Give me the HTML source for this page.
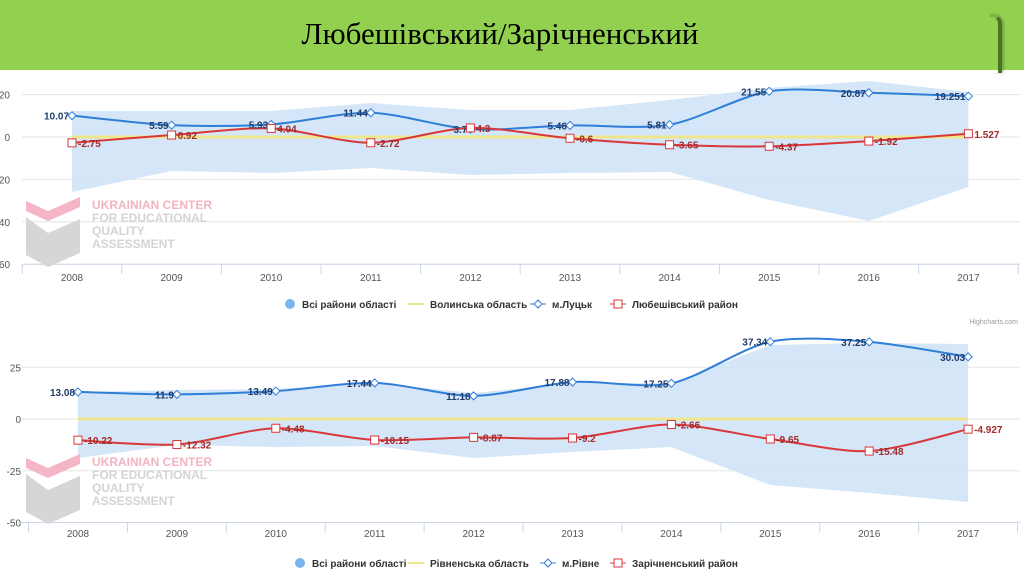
<!DOCTYPE html>
<html><head><meta charset="utf-8"><style>
html,body{margin:0;padding:0;background:#fff;width:1024px;height:574px;overflow:hidden;font-family:"Liberation Sans",sans-serif}
#hdr{position:absolute;left:0;top:0;width:1024px;height:70px;background:#92d050}
#hdr .t{position:absolute;left:0;width:1000px;top:16px;text-align:center;font-family:"Liberation Serif",serif;font-size:31px;color:#000}
#hdr .c{position:absolute;left:990px;top:14px;width:8px;height:56px;border-right:4px solid #4a7322;border-top:3px solid #7fb046;border-top-right-radius:10px;box-shadow:2px 0 2px rgba(0,0,0,.2)}
svg{position:absolute;left:0;top:0}
</style></head><body>
<div id="hdr"><div class="t">Любешівський/Зарічненський</div><div class="c"></div></div>
<svg id="s" width="1024" height="574" font-family="Liberation Sans, sans-serif"></svg>
<script>
const S=document.getElementById('s');let h='';
function cr(p){let d='M'+p[0][0]+','+p[0][1];for(let i=0;i<p.length-1;i++){const p0=p[i-1]||p[i],p1=p[i],p2=p[i+1],p3=p[i+2]||p2;const c1=[p1[0]+(p2[0]-p0[0])/7,p1[1]+(p2[1]-p0[1])/7],c2=[p2[0]-(p3[0]-p1[0])/7,p2[1]-(p3[1]-p1[1])/7];d+=` C${c1[0]},${c1[1]} ${c2[0]},${c2[1]} ${p2[0]},${p2[1]}`;}return d;}
function chart(o){
 const X=i=>o.x0+i*o.dx, Y=v=>o.z-o.k*v;
 o.ticks.forEach(t=>{h+=`<line x1="${o.L}" x2="1020" y1="${Y(t)}" y2="${Y(t)}" stroke="#e6e6e6"/>`;h+=`<text x="${o.tx}" y="${Y(t)+4}" font-size="10" fill="#555" text-anchor="end">${t}</text>`;});
 const yb=Y(o.ticks[o.ticks.length-1]);
 h+=`<line x1="${o.L}" x2="1020" y1="${yb}" y2="${yb}" stroke="#ccd6eb"/>`;
 for(let i=0;i<=10;i++){const x=X(i)-o.dx/2;h+=`<line x1="${x}" x2="${x}" y1="${yb}" y2="${yb+10}" stroke="#ccd6eb"/>`;}
 for(let i=0;i<10;i++)h+=`<text x="${X(i)}" y="${o.ly}" font-size="10" fill="#555" text-anchor="middle">${2008+i}</text>`;
 let pts=o.top.map((y,i)=>X(i)+','+y).join(' ')+' '+o.bot.map((y,i)=>X(i)+','+y).reverse().join(' ');
 h+=`<polygon points="${pts}" fill="#cfe3f6" opacity=".9"/>`;
 const wy=o.wy;
 h+=`<path d="M26 ${wy} l0 10 l22 10 l32 -14 l0 -10 l-32 14z" fill="#f4b6c4"/><path d="M26 ${wy+16} l0 38 l22 12 l32 -14 l0 -34 l-32 14z" fill="#d6d6d6"/>`;
 ['UKRAINIAN CENTER','FOR EDUCATIONAL','QUALITY','ASSESSMENT'].forEach((t,i)=>h+=`<text x="92" y="${wy+8+i*13}" font-size="12" font-weight="bold" fill="${i?'#d4d4d4':'#f3b3c2'}">${t}</text>`);
 h+=`<line x1="${X(0)}" x2="${X(9)}" y1="${o.z}" y2="${o.z}" stroke="#f0e68c" stroke-width="3"/>`;
 const bp=o.b.map((v,i)=>[X(i),Y(v)]), rp=o.r.map((v,i)=>[X(i),Y(v)]);
 h+=`<path d="${cr(bp)}" fill="none" stroke="#2f7ed8" stroke-width="2"/>`;
 h+=`<path d="${cr(rp)}" fill="none" stroke="#d9383a" stroke-width="2"/>`;
 bp.forEach((p,i)=>{h+=`<path d="M${p[0]-4},${p[1]} L${p[0]},${p[1]-4} L${p[0]+4},${p[1]} L${p[0]},${p[1]+4}Z" fill="#fff" stroke="#2f7ed8"/>`;h+=`<text x="${p[0]-3}" y="${p[1]+4}" font-size="10" font-weight="bold" fill="#223c6a" text-anchor="end">${o.bl[i]}</text>`;});
 rp.forEach((p,i)=>{h+=`<rect x="${p[0]-4}" y="${p[1]-4}" width="8" height="8" fill="#fff" stroke="#d9383a"/>`;h+=`<text x="${p[0]+6}" y="${p[1]+4}" font-size="10" font-weight="bold" fill="#a32a2a">${o.rl[i]}</text>`;});
 const lg=o.lg, y=o.gy;
 h+=`<circle cx="${lg[0]}" cy="${y-4}" r="5" fill="#7cb5ec"/><text x="${lg[0]+12}" y="${y}" font-size="10" font-weight="bold" fill="#333">Всі райони області</text>`;
 h+=`<line x1="${lg[1]}" x2="${lg[1]+16}" y1="${y-4}" y2="${y-4}" stroke="#f0e68c" stroke-width="2"/><text x="${lg[1]+22}" y="${y}" font-size="10" font-weight="bold" fill="#333">${o.n1}</text>`;
 h+=`<line x1="${lg[2]}" x2="${lg[2]+16}" y1="${y-4}" y2="${y-4}" stroke="#2f7ed8"/><path d="M${lg[2]+4},${y-4} l4,-4 l4,4 l-4,4z" fill="#fff" stroke="#2f7ed8"/><text x="${lg[2]+22}" y="${y}" font-size="10" font-weight="bold" fill="#333">${o.n2}</text>`;
 h+=`<line x1="${lg[3]}" x2="${lg[3]+16}" y1="${y-4}" y2="${y-4}" stroke="#d9383a"/><rect x="${lg[3]+4}" y="${y-8}" width="8" height="8" fill="#fff" stroke="#d9383a"/><text x="${lg[3]+22}" y="${y}" font-size="10" font-weight="bold" fill="#333">${o.n3}</text>`;
}
chart({x0:72,dx:99.6,z:137,k:2.12,L:22,tx:10,ticks:[20,0,-20,-40,-60],ly:281,gy:308,wy:201,
 top:[111,111,111,103,110,110,100,88,81,92],bot:[192,171,173,168,175,173,172,200,221,187],
 b:[10.07,5.59,5.93,11.44,3.7,5.46,5.81,21.55,20.87,19.251],bl:['10.07','5.59','5.93','11.44','3.7','5.46','5.81','21.55','20.87','19.251'],
 r:[-2.75,0.92,4.04,-2.72,4.3,-0.6,-3.65,-4.37,-1.92,1.527],rl:['-2.75','0.92','4.04','-2.72','4.3','-0.6','-3.65','-4.37','-1.92','1.527'],
 lg:[290,408,530,610],n1:'Волинська область',n2:'м.Луцьк',n3:'Любешівський район'});
chart({x0:78,dx:98.9,z:419,k:2.07,L:18,tx:21,ticks:[25,0,-25,-50],ly:537,gy:567,wy:458,
 top:[392,390,389,383,393,383,383,345,343,344],bot:[458,445,447,446,458,452,447,485,493,502],
 b:[13.08,11.9,13.49,17.44,11.18,17.88,17.25,37.34,37.25,30.03],bl:['13.08','11.9','13.49','17.44','11.18','17.88','17.25','37.34','37.25','30.03'],
 r:[-10.22,-12.32,-4.48,-10.15,-8.87,-9.2,-2.66,-9.65,-15.48,-4.927],rl:['-10.22','-12.32','-4.48','-10.15','-8.87','-9.2','-2.66','-9.65','-15.48','-4.927'],
 lg:[300,408,540,610],n1:'Рівненська область',n2:'м.Рівне',n3:'Зарічненський район'});
h+=`<text x="1018" y="324" font-size="7" fill="#999" text-anchor="end">Highcharts.com</text>`;
S.innerHTML=h;
</script>
</body></html>
